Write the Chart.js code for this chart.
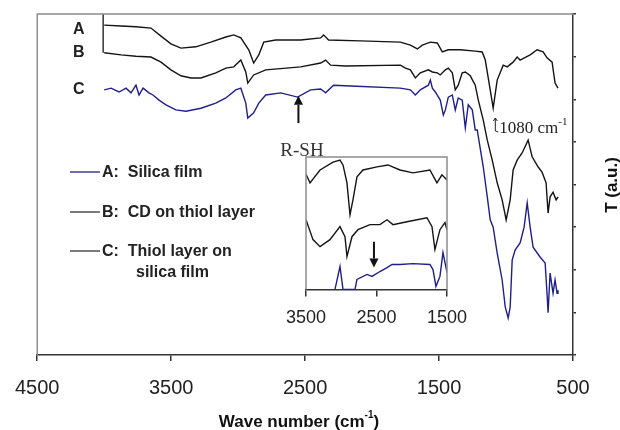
<!DOCTYPE html>
<html>
<head>
<meta charset="utf-8">
<script src="https://cdn.jsdelivr.net/npm/chart.js@4.4.0/dist/chart.umd.min.js"></script>
<style>
html, body { margin: 0; padding: 0; background: #fff; }
#wrap { position: relative; width: 620px; height: 430px; }
#main { position: absolute; left: 0; top: 0; }
#inset { position: absolute; left: 270px; top: 140px; }
</style>
</head>
<body>
<div id="wrap">
	<canvas id="main" width="620" height="430"></canvas>
	<canvas id="inset" width="210" height="200"></canvas>
</div>
<script>
// main spectra (wave number in cm-1, transmittance in a.u.)
var waveA = [4000,3874,3763,3651,3576,3502,3427,3316,3204,3092,3033,2980,2921,2884,2846,2809,2720,2533,2384,2362,2325,2087,1789,1714,1662,1625,1565,1513,1476,1431,1342,1230,1178,1155,1118,1096,1066,1021,991,947,917,895,820,768,723,694,656,634,612];
var transA = [7.74,7.72,7.70,7.67,7.48,7.30,7.20,7.23,7.34,7.46,7.51,7.44,7.16,6.85,7.04,7.34,7.39,7.39,7.44,7.51,7.39,7.37,7.34,7.27,7.18,7.27,7.34,7.32,7.11,7.16,7.16,7.13,7.11,6.92,6.22,5.79,6.45,6.80,6.76,6.87,6.99,6.92,7.04,7.16,7.11,6.97,6.87,6.38,6.26];

var waveB = [4000,3874,3763,3651,3576,3502,3427,3353,3278,3167,3092,3033,2980,2943,2928,2884,2794,2533,2384,2347,2310,2198,1789,1751,1714,1677,1640,1580,1550,1513,1491,1453,1431,1401,1379,1357,1327,1304,1267,1230,1207,1170,1140,1103,1066,1029,999,969,947,917,880,835,805,760,731,701,686,671,649,626,612];
var transB = [7.09,7.04,7.01,6.99,6.87,6.69,6.55,6.50,6.50,6.62,6.73,6.76,6.92,6.64,6.38,6.57,6.69,6.76,6.85,6.92,6.80,6.78,6.80,6.73,6.69,6.50,6.62,6.69,6.64,6.62,6.57,6.69,6.73,6.62,6.22,6.33,6.62,6.64,6.55,6.33,5.98,5.51,5.04,4.57,4.04,3.64,3.17,3.64,4.34,4.57,4.74,5.04,4.65,4.41,4.29,4.04,3.33,3.71,3.82,3.64,3.71];

var waveC = [4000,3949,3889,3837,3800,3763,3740,3710,3666,3636,3591,3539,3465,3390,3278,3167,3092,3018,2980,2943,2928,2884,2846,2794,2682,2556,2459,2384,2347,2288,2161,1789,1714,1677,1640,1580,1565,1550,1528,1491,1468,1453,1431,1401,1379,1357,1327,1304,1282,1252,1230,1215,1170,1140,1118,1096,1066,1029,1006,984,969,954,932,895,865,842,820,798,746,708,694,686,671,649,634,619,612];
var transC = [6.22,6.26,6.17,6.26,6.15,6.33,6.10,6.26,6.15,6.10,5.98,5.87,5.75,5.72,5.79,5.91,6.03,6.22,6.26,5.91,5.56,5.68,5.91,6.10,6.15,6.05,6.22,6.24,6.15,6.33,6.31,6.26,6.22,6.10,6.22,6.33,6.45,6.26,6.17,5.98,5.63,5.75,6.05,6.10,5.75,6.03,5.98,5.33,5.87,5.75,5.28,5.28,4.41,3.71,3.17,3.00,2.39,1.76,1.13,0.87,1.13,2.23,2.46,2.63,3.00,3.57,3.00,2.53,2.30,2.16,1.45,0.99,1.92,1.45,1.76,1.45,1.52];

// left edge of the spectrum frame
var frameWave = [4008, 4008];
var frameT = [8, 7.09];

// inset (3500 - 1500 cm-1)
var insetWaveTop = [3500,3443,3301,3117,3018,2975,2919,2876,2834,2777,2692,2493,2337,2167,1983,1742,1643,1572,1500];
var insetTop = [8.7,8.05,9.02,9.62,9.77,9.40,8.05,5.64,6.77,8.50,9.02,9.25,9.40,9.02,8.80,9.02,8.05,8.65,8.27];
var insetWaveMid = [3500,3401,3301,3160,3018,2947,2919,2848,2763,2592,2451,2351,2266,2068,1784,1713,1671,1600,1529,1500];
var insetMid = [5.26,3.76,3.23,3.76,4.74,3.98,2.48,3.98,4.51,4.89,4.89,5.26,4.89,5.11,5.41,4.74,3.01,4.51,5.04,4.51];
var insetWaveLow = [3089,3018,2975,2805,2777,2635,2564,2451,2351,2281,2167,1983,1742,1699,1657,1600,1557,1500];
var insetLow = [0,1.73,0,0,0.75,1.13,0.98,1.35,1.65,1.88,1.88,1.95,1.88,1.50,0.23,0.98,2.78,1.28];

var mainTicks = [4500, 3500, 2500, 1500, 500];
var insetTicks = [3500, 2500, 1500];

var curveLabels = ['A', 'B', 'C'];
var legendLabels = ['A:  Silica film', 'B:  CD on thiol layer', 'C:  Thiol layer on', 'silica film'];

// annotations
var rshWave = 2550, rshT = [5.44, 6.08];
var bandWave = 1080;
var insetArrowWave = 2536, insetArrowT = [3.6, 1.65];

var BLUE = '#1f1f8c';
var DARK = '#141414';
var SANS = '"Liberation Sans", Arial, sans-serif';
var SERIF = '"Liberation Serif", "Times New Roman", serif';

function pts(xs, ys) {
	return xs.map(function(x, i) { return {x: x, y: ys[i]}; });
}

function line(color, xs, ys, w) {
	return {data: pts(xs, ys), borderColor: color, borderWidth: w || 1.4, pointRadius: 0, tension: 0, fill: false};
}

function plain(v) { return String(v); }

function arrow(ctx, x, y0, y1, head) {
	var dir = y1 < y0 ? 1 : -1;
	ctx.beginPath();
	ctx.moveTo(x, y0);
	ctx.lineTo(x, y1 + dir * head);
	ctx.stroke();
	ctx.beginPath();
	ctx.moveTo(x, y1);
	ctx.lineTo(x - head / 2, y1 + dir * head);
	ctx.lineTo(x + head / 2, y1 + dir * head);
	ctx.closePath();
	ctx.fill();
}

var mainDecor = {
	id: 'mainDecor',
	afterDraw: function(chart) {
		var ctx = chart.ctx, a = chart.chartArea;
		var xs = chart.scales.x, ys = chart.scales.y;
		ctx.save();

		// gray frame on top and left
		ctx.strokeStyle = '#8c8c8c';
		ctx.lineWidth = 1.5;
		ctx.beginPath();
		ctx.moveTo(a.left, a.bottom);
		ctx.lineTo(a.left, a.top);
		ctx.lineTo(a.right, a.top);
		ctx.stroke();

		// A B C next to the curves
		ctx.fillStyle = '#222';
		ctx.font = 'bold 16px ' + SANS;
		ctx.textAlign = 'center';
		ctx.textBaseline = 'middle';
		var starts = [transA[0] - 0.1, transB[0], transC[0]];
		for (var i = 0; i < curveLabels.length; i++) {
			ctx.fillText(curveLabels[i], xs.getPixelForValue(4190), ys.getPixelForValue(starts[i]));
		}

		// legend
		var legY = [172, 212, 251, 272];
		var legCol = [BLUE, '#333', '#333'];
		ctx.textAlign = 'left';
		for (var j = 0; j < legendLabels.length; j++) {
			if (j < 3) {
				ctx.strokeStyle = legCol[j];
				ctx.lineWidth = 1.3;
				ctx.beginPath();
				ctx.moveTo(70, legY[j]);
				ctx.lineTo(100, legY[j]);
				ctx.stroke();
				ctx.fillText(legendLabels[j], 102, legY[j] + 1);
			} else {
				ctx.fillText(legendLabels[j], 136, legY[j] + 1);
			}
		}

		// R-SH arrow
		ctx.strokeStyle = '#111';
		ctx.fillStyle = '#111';
		ctx.lineWidth = 2;
		arrow(ctx, xs.getPixelForValue(rshWave), ys.getPixelForValue(rshT[0]), ys.getPixelForValue(rshT[1]), 9);
		ctx.fillStyle = '#333';
		ctx.font = '19px ' + SERIF;
		ctx.textAlign = 'center';
		ctx.textBaseline = 'alphabetic';
		ctx.fillText('R-SH', 302, 156);

		// 1080 cm-1 band
		var bx = xs.getPixelForValue(bandWave);
		ctx.lineWidth = 1;
		ctx.strokeStyle = '#222';
		ctx.beginPath();
		ctx.moveTo(bx - 2, 121);
		ctx.lineTo(bx, 118);
		ctx.lineTo(bx + 2, 121);
		ctx.moveTo(bx, 118);
		ctx.lineTo(bx, 131);
		ctx.lineTo(bx + 3, 132);
		ctx.stroke();
		ctx.fillStyle = '#222';
		ctx.textAlign = 'left';
		ctx.font = '17px ' + SERIF;
		ctx.fillText('1080 cm', bx + 4, 133);
		var w1 = ctx.measureText('1080 cm').width;
		ctx.font = '11px ' + SERIF;
		ctx.fillText('-1', bx + 4 + w1, 125);

		// x title
		ctx.fillStyle = '#111';
		ctx.font = 'bold 17px ' + SANS;
		var t1 = 'Wave number (cm', t2 = ')';
		var wa = ctx.measureText(t1).width, wc = ctx.measureText(t2).width;
		ctx.font = 'bold 10px ' + SANS;
		var wb = ctx.measureText('-1').width;
		var x0 = 299 - (wa + wb + wc) / 2;
		ctx.font = 'bold 17px ' + SANS;
		ctx.fillText(t1, x0, 427);
		ctx.fillText(t2, x0 + wa + wb, 427);
		ctx.font = 'bold 10px ' + SANS;
		ctx.fillText('-1', x0 + wa, 418);

		// y title
		ctx.translate(612, 185);
		ctx.rotate(-Math.PI / 2);
		ctx.textAlign = 'center';
		ctx.textBaseline = 'middle';
		ctx.font = 'bold 17px ' + SANS;
		ctx.fillText('T (a.u.)', 0, 0);
		ctx.restore();
	}
};

var insetDecor = {
	id: 'insetDecor',
	afterDraw: function(chart) {
		var ctx = chart.ctx, a = chart.chartArea;
		var xs = chart.scales.x, ys = chart.scales.y;
		ctx.save();
		ctx.strokeStyle = '#8c8c8c';
		ctx.lineWidth = 1.5;
		ctx.beginPath();
		ctx.moveTo(a.left, a.bottom);
		ctx.lineTo(a.left, a.top);
		ctx.lineTo(a.right, a.top);
		ctx.lineTo(a.right, a.bottom);
		ctx.stroke();
		ctx.strokeStyle = '#111';
		ctx.fillStyle = '#111';
		ctx.lineWidth = 2;
		arrow(ctx, xs.getPixelForValue(insetArrowWave), ys.getPixelForValue(insetArrowT[0]), ys.getPixelForValue(insetArrowT[1]), 9);
		ctx.restore();
	}
};

var mainChart = new Chart(document.getElementById('main'), {
	type: 'line',
	data: {
		datasets: [
			line(DARK, waveA, transA),
			line(DARK, waveB, transB),
			line(BLUE, waveC, transC),
			line(DARK, frameWave, frameT, 1.3)
		]
	},
	options: {
		responsive: false,
		animation: false,
		events: [],
		layout: {padding: {left: 36, top: 14, right: 44, bottom: 15}},
		plugins: {legend: {display: false}, tooltip: {enabled: false}},
		scales: {
			x: {
				type: 'linear', reverse: true, min: 500, max: 4500,
				afterBuildTicks: function(s) { s.ticks = mainTicks.map(function(v) { return {value: v}; }); },
				ticks: {font: {family: SANS, size: 20}, color: '#222', padding: 15, maxRotation: 0, callback: plain},
				grid: {drawOnChartArea: false, tickLength: 6, color: '#333', lineWidth: 1.5},
				border: {color: '#333', width: 1.5}
			},
			y: {
				position: 'right', min: 0, max: 8,
				ticks: {display: false, stepSize: 1},
				grid: {drawOnChartArea: false, tickLength: 3, color: '#333', lineWidth: 1.5},
				border: {color: '#333', width: 1.5}
			}
		}
	},
	plugins: [mainDecor]
});

var insetChart = new Chart(document.getElementById('inset'), {
	type: 'line',
	data: {
		datasets: [
			line(DARK, insetWaveTop, insetTop),
			line(DARK, insetWaveMid, insetMid),
			line(BLUE, insetWaveLow, insetLow)
		]
	},
	options: {
		responsive: false,
		animation: false,
		events: [],
		layout: {padding: {left: 36, top: 17, right: 33, bottom: 0}},
		plugins: {legend: {display: false}, tooltip: {enabled: false}},
		scales: {
			x: {
				type: 'linear', reverse: true, min: 1500, max: 3500,
				afterBuildTicks: function(s) { s.ticks = insetTicks.map(function(v) { return {value: v}; }); },
				ticks: {font: {family: SANS, size: 18}, color: '#222', padding: 11, maxRotation: 0, callback: plain},
				grid: {drawOnChartArea: false, tickLength: 7, color: '#333', lineWidth: 1.5},
				border: {color: '#333', width: 1.5}
			},
			y: {display: false, min: 0, max: 10}
		}
	},
	plugins: [insetDecor]
});
</script>
</body>
</html>
